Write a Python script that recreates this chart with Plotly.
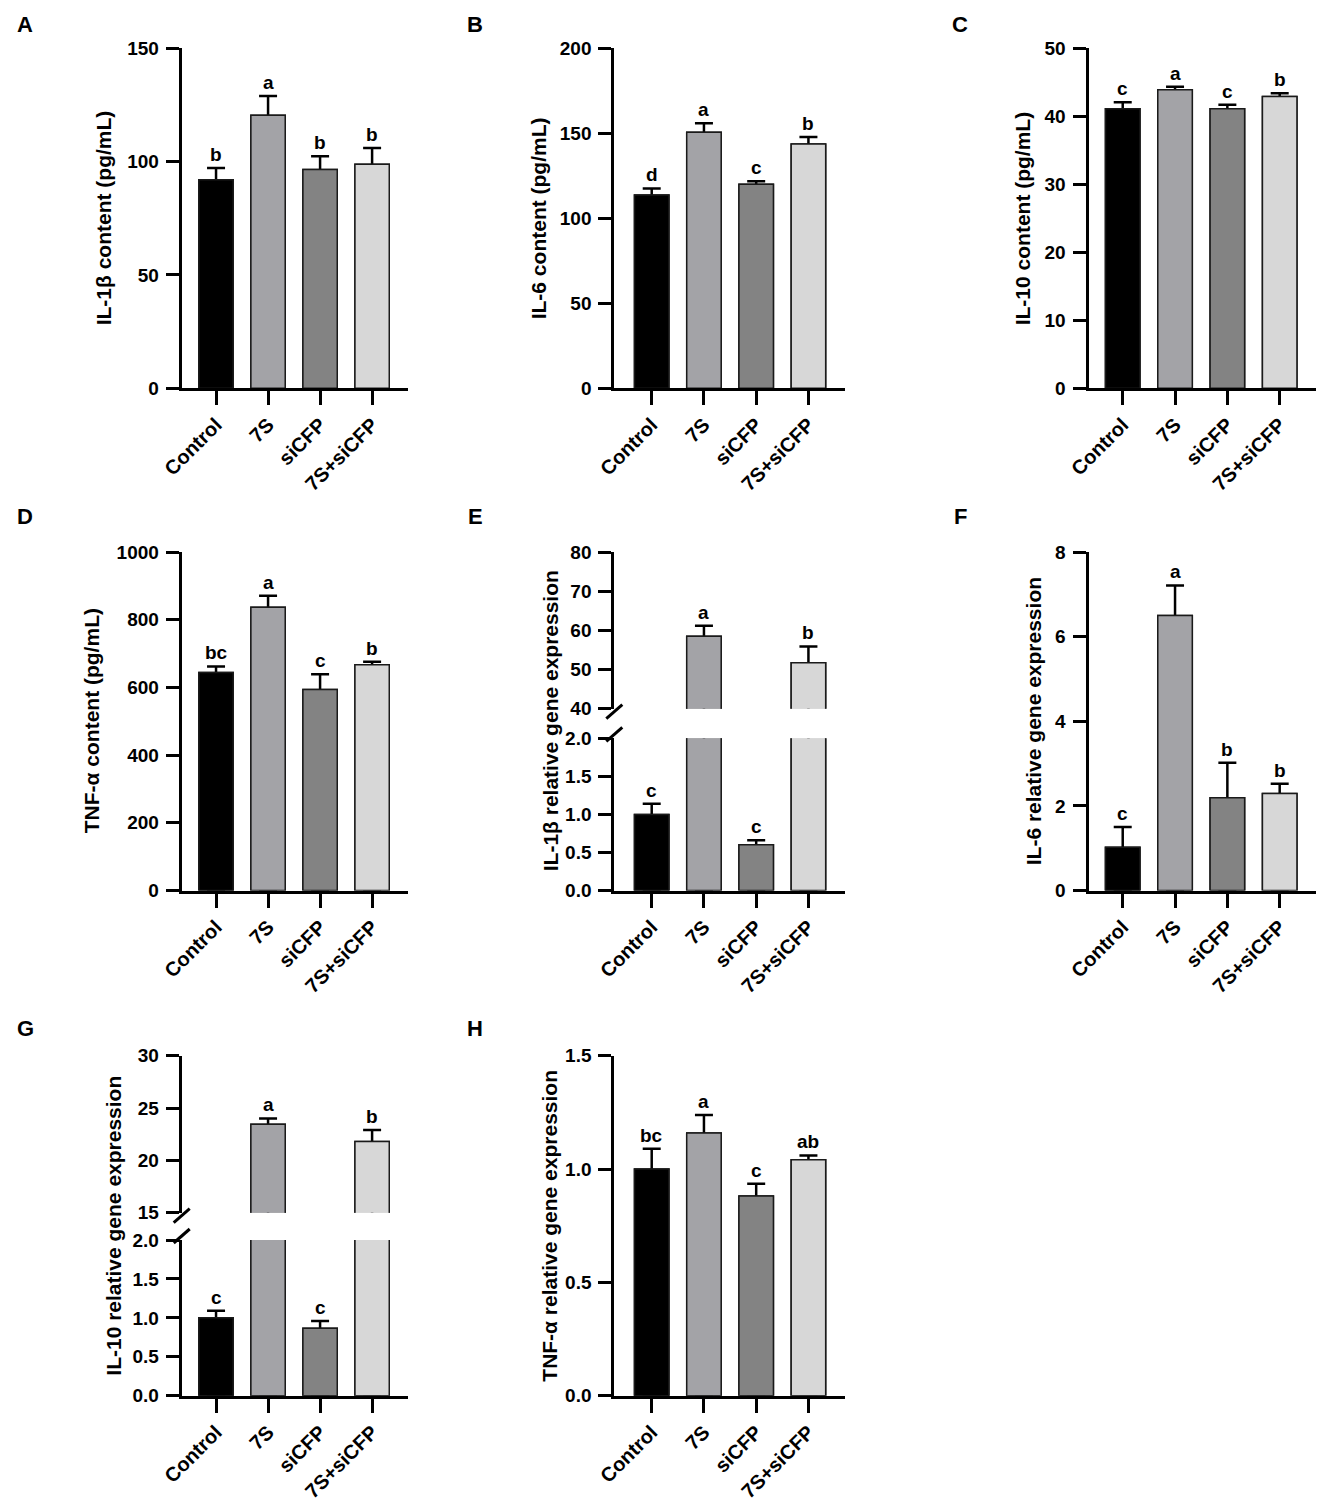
import plotly.graph_objects as go

W, H = 1325, 1509
PAGE_OFFSET = 8  # default body margin of the html page

# ---- data ----
groups = ["Control", "7S", "siCFP", "7S+siCFP"]
bar_colors = ["#000000", "#a3a3a7", "#838383", "#d7d7d7"]

il1b_pg = [92.0, 120.5, 96.5, 98.8]
il1b_pg_err = [5.2, 8.5, 5.9, 7.2]
il1b_pg_sig = ["b", "a", "b", "b"]

il6_pg = [113.7, 150.6, 120.0, 143.7]
il6_pg_err = [3.9, 5.3, 1.8, 4.1]
il6_pg_sig = ["d", "a", "c", "b"]

il10_pg = [41.1, 43.9, 41.1, 42.9]
il10_pg_err = [0.96, 0.44, 0.6, 0.5]
il10_pg_sig = ["c", "a", "c", "b"]

tnf_pg = [644.0, 837.0, 594.0, 667.0]
tnf_pg_err = [18.0, 34.0, 45.0, 9.0]
tnf_pg_sig = ["bc", "a", "c", "b"]

il1b_expr = [1.0, 58.5, 0.60, 51.7]
il1b_expr_err = [0.14, 2.7, 0.06, 4.2]
il1b_expr_sig = ["c", "a", "c", "b"]

il6_expr = [1.02, 6.50, 2.19, 2.29]
il6_expr_err = [0.48, 0.71, 0.83, 0.23]
il6_expr_sig = ["c", "a", "b", "b"]

il10_expr = [1.0, 23.44, 0.865, 21.8]
il10_expr_err = [0.09, 0.57, 0.095, 1.1]
il10_expr_sig = ["c", "a", "c", "b"]

tnf_expr = [1.0, 1.159, 0.881, 1.041]
tnf_expr_err = [0.09, 0.079, 0.054, 0.019]
tnf_expr_sig = ["bc", "a", "c", "ab"]

# ---- layout geometry (pixels in the final picture) ----
col_px = {1: (181.7, 408.0), 2: (614.3, 845.0), 3: (1088.5, 1316.0)}
col_xrange = {1: (-0.66, 3.69), 2: (-0.716, 3.70), 3: (-0.654, 3.694)}
row_px = {1: (48.3, 388.3), 2: (552.0, 890.5), 3: (1055.7, 1395.7)}

FONT = "Liberation Sans, Arial, sans-serif"


def seg(rng, dtick, fmt="", px=None):
    return dict(range=rng, dtick=dtick, fmt=fmt, px=px)


panels = [
    dict(label="A", col=1, row=1, vals=il1b_pg, err=il1b_pg_err, sig=il1b_pg_sig,
         title="IL-1β content (pg/mL)", title_x=103,
         segs=[seg((0, 150), 50)]),
    dict(label="B", col=2, row=1, vals=il6_pg, err=il6_pg_err, sig=il6_pg_sig,
         title="IL-6 content (pg/mL)", title_x=538,
         segs=[seg((0, 200), 50)]),
    dict(label="C", col=3, row=1, vals=il10_pg, err=il10_pg_err, sig=il10_pg_sig,
         title="IL-10 content (pg/mL)", title_x=1022,
         segs=[seg((0, 50), 10)]),
    dict(label="D", col=1, row=2, vals=tnf_pg, err=tnf_pg_err, sig=tnf_pg_sig,
         title="TNF-α content (pg/mL)", title_x=91,
         segs=[seg((0, 1000), 200)]),
    dict(label="E", col=2, row=2, vals=il1b_expr, err=il1b_expr_err, sig=il1b_expr_sig,
         title="IL-1β relative gene expression", title_x=550,
         segs=[seg((0, 2), 0.5, ".1f", (738.3, 890.5)),
               seg((40, 80), 10, "", (552.0, 708.7))]),
    dict(label="F", col=3, row=2, vals=il6_expr, err=il6_expr_err, sig=il6_expr_sig,
         title="IL-6 relative gene expression", title_x=1033,
         segs=[seg((0, 8), 2)]),
    dict(label="G", col=1, row=3, vals=il10_expr, err=il10_expr_err, sig=il10_expr_sig,
         title="IL-10 relative gene expression", title_x=114,
         segs=[seg((0, 2), 0.5, ".1f", (1240.0, 1395.7)),
               seg((15, 30), 5, "", (1055.7, 1212.7))]),
    dict(label="H", col=2, row=3, vals=tnf_expr, err=tnf_expr_err, sig=tnf_expr_sig,
         title="TNF-α relative gene expression", title_x=550,
         segs=[seg((0, 1.5), 0.5, ".1f")]),
]


def fx(p):
    return (p - PAGE_OFFSET) / W


def fy(p):
    return 1 - (p - PAGE_OFFSET) / H


fig = go.Figure()
layout_axes = {}
annotations = []
shapes = []

tick_font = dict(family=FONT, size=19, color="black", weight="bold")
xtick_font = dict(family=FONT, size=20, color="black", weight="bold")
yid = 0
for xid, p in enumerate(panels, start=1):
    x0, x1 = col_px[p["col"]]
    top, bottom = row_px[p["row"]]
    xname = "x" if xid == 1 else f"x{xid}"
    seg_ids = []
    for s in p["segs"]:
        yid += 1
        seg_ids.append(yid)
        ytop, ybot = s["px"] if s["px"] else (top, bottom)
        yname = "y" if yid == 1 else f"y{yid}"
        layout_axes["yaxis" if yid == 1 else f"yaxis{yid}"] = dict(
            domain=[fy(ybot), fy(ytop)], range=list(s["range"]), anchor=xname,
            tick0=s["range"][0], dtick=s["dtick"], tickformat=s["fmt"],
            showline=True, linewidth=3, linecolor="black",
            ticks="outside", ticklen=13, tickwidth=3, tickcolor="black",
            tickfont=tick_font, ticklabelstandoff=3, automargin=False,
            showgrid=False, zeroline=False, fixedrange=True,
        )
        # underlay bars carry the error bars; overlay bars hide the stems inside
        fig.add_trace(go.Bar(
            x=groups, y=p["vals"], xaxis=xname, yaxis=yname, width=0.66,
            marker=dict(color=bar_colors, line=dict(color="#1a1a1a", width=1.5)),
            error_y=dict(type="data", symmetric=False, array=p["err"],
                         arrayminus=p["vals"], color="black", thickness=2.5, width=9),
            showlegend=False, hoverinfo="skip",
        ))
        fig.add_trace(go.Bar(
            x=groups, y=p["vals"], xaxis=xname, yaxis=yname, width=0.66,
            marker=dict(color=bar_colors, line=dict(color="#1a1a1a", width=1.5)),
            showlegend=False, hoverinfo="skip",
        ))

    layout_axes["xaxis" if xid == 1 else f"xaxis{xid}"] = dict(
        domain=[fx(x0), fx(x1)], range=list(col_xrange[p["col"]]),
        anchor="y" if seg_ids[0] == 1 else f"y{seg_ids[0]}",
        type="category", categoryorder="array", categoryarray=groups,
        tickangle=-45, showline=True, linewidth=3, linecolor="black",
        ticks="outside", ticklen=14, tickwidth=3, tickcolor="black",
        tickfont=xtick_font, automargin=False,
        showgrid=False, zeroline=False, fixedrange=True,
    )

    # significance letters
    for g, v, e, s in zip(groups, p["vals"], p["err"], p["sig"]):
        target = seg_ids[0]
        if len(seg_ids) > 1 and v + e > p["segs"][1]["range"][0]:
            target = seg_ids[1]
        annotations.append(dict(
            x=g, y=v + e, xref=xname, yref="y" if target == 1 else f"y{target}",
            text=s, showarrow=False, yanchor="bottom", yshift=1,
            font=dict(family=FONT, size=19, color="black", weight="bold"),
        ))

    # y-axis title and panel label
    annotations.append(dict(
        x=fx(p["title_x"]), y=fy((top + bottom) / 2), xref="paper", yref="paper",
        text=p["title"], textangle=-90, showarrow=False,
        xanchor="center", yanchor="middle",
        font=dict(family=FONT, size=21, color="black", weight="bold"),
    ))
    lab_x = {1: 25, 2: 475.5, 3: 960}[p["col"]]
    lab_y = {1: 24.5, 2: 516, 3: 1028}[p["row"]]
    annotations.append(dict(
        x=fx(lab_x), y=fy(lab_y), xref="paper", yref="paper", text=p["label"],
        showarrow=False, xanchor="center", yanchor="middle",
        font=dict(family=FONT, size=22, color="black", weight="bold"),
    ))

    # axis break marks
    if len(p["segs"]) > 1:
        low_top = p["segs"][0]["px"][0]
        up_bot = p["segs"][1]["px"][1]
        for cy in (up_bot + 3, low_top - 4):
            shapes.append(dict(
                type="line", xref="paper", yref="paper",
                x0=fx(x0 - 8), y0=fy(cy + 7), x1=fx(x0 + 8), y1=fy(cy - 7),
                line=dict(color="black", width=3),
            ))

fig.update_layout(
    width=W, height=H,
    margin=dict(l=0, r=0, t=0, b=0, pad=0, autoexpand=False),
    paper_bgcolor="white", plot_bgcolor="white",
    barmode="overlay", showlegend=False,
    annotations=annotations, shapes=shapes,
    font=dict(family=FONT, color="black"),
    **layout_axes,
)

fig.write_html("out.html")
